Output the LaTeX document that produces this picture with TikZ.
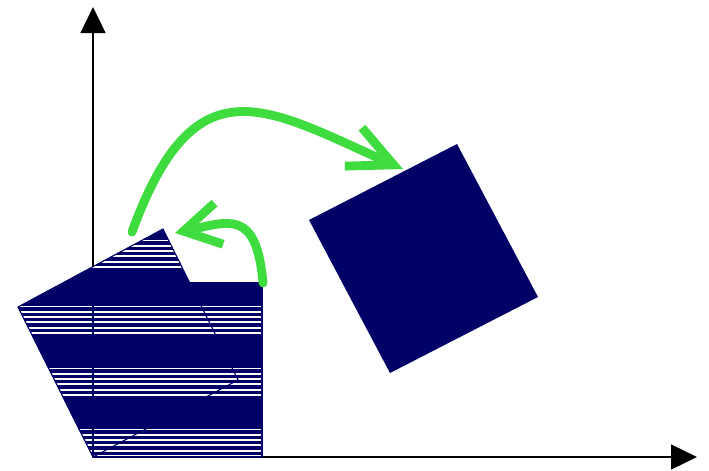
\documentclass[tikz,border=0pt]{standalone}
\usetikzlibrary{arrows.meta}
\definecolor{rotNavy}{HTML}{000066}
\definecolor{rotGreen}{HTML}{3EDC3E}
\tikzset{
  rot axis/.style={draw=black, line width=1.4pt, -{Triangle[length=0.65cm, width=0.62cm]}},
  rot fill/.style={fill=rotNavy},
  rot stripe/.style={draw=white, line width=1.3pt},
  rot edge/.style={draw=rotNavy, line width=0.8pt, line join=round},
  rot move/.style={draw=rotGreen, line width=6.3pt, line cap=round, line join=round, -{Straight Barb[length=1.1cm, width=1.05cm]}},
}

\begin{document}
\begin{tikzpicture}[x=0.025cm,y=0.025cm]
  \useasboundingbox (-93,-13) rectangle (616,457);
  % corners of the first square and of its turned copy
  \coordinate (O) at (0,0);
  \coordinate (sqR) at (169,0);
  \coordinate (sqT) at (169,174);
  \coordinate (sqL) at (0,174);
  \coordinate (rtR) at (145,77);
  \coordinate (rtT) at (70,228);
  \coordinate (rtL) at (-75,150);
  % corners of the moved square
  \coordinate (mvL) at (216,237);
  \coordinate (mvT) at (364,313);
  \coordinate (mvR) at (445,160);
  \coordinate (mvB) at (297,84);
  % axes
  \coordinate (xEnd) at (604,0);
  \coordinate (yEnd) at (0,450);
  \draw[rot axis] (O) -- (xEnd);
  \draw[rot axis] (O) -- (yEnd);
  % squares at the origin, with bands of white lines
  \fill[rot fill] (O) -- (sqR) -- (sqT) -- (sqL) -- cycle (O) -- (rtR) -- (rtT) -- (rtL) -- cycle;
  \begin{scope}
    \clip (O) -- (sqR) -- (sqT) -- (sqL) -- cycle (O) -- (rtR) -- (rtT) -- (rtL) -- cycle;
    \foreach \b in {1,62,124,190}
      \foreach \k in {0,...,5}
        \draw[rot stripe] (-80,\b+5.3*\k) -- (175,\b+5.3*\k);
  \end{scope}
  \draw[rot edge] (O) -- (sqR) -- (sqT) -- (sqL) -- cycle;
  \draw[rot edge] (O) -- (rtR) -- (rtT) -- (rtL) -- cycle;
  % moved square
  \fill[rot fill] (mvL) -- (mvT) -- (mvR) -- (mvB) -- cycle;
  % green arrows
  \coordinate (bigFrom) at (39,225);
  \coordinate (bigTo) at (310,288);
  \coordinate (smallFrom) at (170,174);
  \coordinate (smallTo) at (82,224);
  \draw[rot move] (bigFrom) .. controls +(70:185) and +(156:150) .. (bigTo);
  \draw[rot move, -{Straight Barb[length=0.9cm, width=1.05cm]}] (smallFrom) .. controls +(95:75) and +(12:55) .. (smallTo);
\end{tikzpicture}
\end{document}
